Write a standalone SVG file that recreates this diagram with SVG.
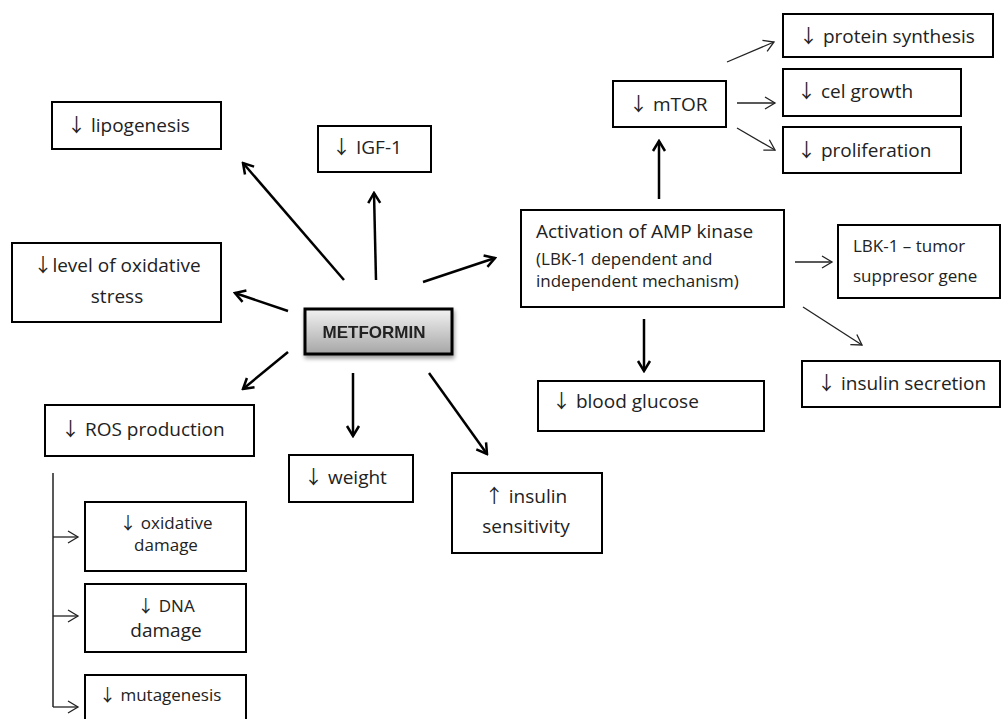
<svg xmlns="http://www.w3.org/2000/svg" width="1002" height="719" viewBox="0 0 1002 719">
<style>
.box{fill:#fff;stroke:#000;stroke-width:2}
.t{font-family:"Open Sans","Liberation Sans",Arial,sans-serif;font-size:19px;fill:#222}
.s{font-size:17px}
.c{text-anchor:middle}
.a{font-family:"Noto Sans CJK SC","Liberation Sans",sans-serif;font-weight:400}
.thick{stroke:#000;stroke-width:2.5;fill:none;marker-end:url(#ah)}
.thin{stroke:#222;stroke-width:1.3;fill:none;marker-end:url(#ahs)}
</style>
<defs>
<marker id="ah" markerUnits="userSpaceOnUse" markerWidth="16" markerHeight="16" viewBox="0 0 16 16" refX="14" refY="8" orient="auto">
<path d="M4,2 L14,8 L4,14" fill="none" stroke="#000" stroke-width="2.5"/>
</marker>
<marker id="ahs" markerUnits="userSpaceOnUse" markerWidth="16" markerHeight="16" viewBox="0 0 16 16" refX="14" refY="8" orient="auto">
<path d="M4,2 L14,8 L4,14" fill="none" stroke="#222" stroke-width="1.3"/>
</marker>
<linearGradient id="mg" x1="0" y1="0" x2="0" y2="1">
<stop offset="0" stop-color="#f2f2f2"/>
<stop offset="1" stop-color="#a6a6a6"/>
</linearGradient>
<filter id="sh" x="-20%" y="-30%" width="140%" height="170%">
<feGaussianBlur in="SourceAlpha" stdDeviation="2"/>
<feOffset dx="1" dy="3"/>
<feComponentTransfer><feFuncA type="linear" slope="0.4"/></feComponentTransfer>
<feMerge><feMergeNode/><feMergeNode in="SourceGraphic"/></feMerge>
</filter>
</defs>

<g id="connectors">
<line class="thick" x1="344" y1="280" x2="243" y2="163"/>
<line class="thick" x1="376" y1="280" x2="374" y2="193"/>
<line class="thick" x1="423" y1="282" x2="495" y2="258"/>
<line class="thick" x1="288" y1="311" x2="235" y2="293"/>
<line class="thick" x1="288" y1="352" x2="243" y2="389"/>
<line class="thick" x1="353" y1="373" x2="353" y2="436"/>
<line class="thick" x1="429" y1="373" x2="487" y2="454"/>
<line class="thick" x1="659" y1="199" x2="659" y2="141"/>
<line class="thick" x1="644" y1="319" x2="644" y2="371"/>
<line class="thin" x1="727" y1="62" x2="774" y2="42"/>
<line class="thin" x1="737" y1="103" x2="775" y2="103"/>
<line class="thin" x1="737" y1="128" x2="775" y2="150"/>
<line class="thin" x1="795" y1="262" x2="832" y2="262"/>
<line class="thin" x1="803" y1="307" x2="862" y2="345"/>
<path d="M53,473 L53,707" stroke="#222" stroke-width="1.5" fill="none"/>
<line class="thin" x1="53" y1="537" x2="78" y2="537"/>
<line class="thin" x1="53" y1="616" x2="78" y2="616"/>
<line class="thin" x1="53" y1="707" x2="78" y2="707"/>
</g>

<g id="metformin" filter="url(#sh)">
<rect x="305" y="309" width="147" height="45" fill="url(#mg)" stroke="#000" stroke-width="3"/>
<text x="374" y="338" text-anchor="middle" font-family="Liberation Sans,Arial,sans-serif" font-weight="bold" font-size="17" fill="#222">METFORMIN</text>
</g>

<g id="lipogenesis">
<rect class="box" x="52" y="102" width="169" height="47"/>
<text class="t" x="67" y="132"><tspan class="a">↓</tspan> lipogenesis</text>
</g>

<g id="igf1">
<rect class="box" x="318" y="126" width="113" height="46"/>
<text class="t" x="332" y="154"><tspan class="a">↓</tspan> IGF-1</text>
</g>

<g id="oxidative-stress">
<rect class="box" x="12" y="243" width="209" height="79"/>
<text class="t c" x="117" y="272"><tspan class="a">↓</tspan>level of oxidative</text>
<text class="t c" x="117" y="303">stress</text>
</g>

<g id="ros">
<rect class="box" x="45" y="405" width="209" height="51"/>
<text class="t" x="61" y="436"><tspan class="a">↓</tspan> ROS production</text>
</g>

<g id="weight">
<rect class="box" x="289" y="455" width="124" height="47"/>
<text class="t" x="304" y="484"><tspan class="a">↓</tspan> weight</text>
</g>

<g id="insulin-sensitivity">
<rect class="box" x="452" y="473" width="150" height="80"/>
<text class="t c" x="526" y="503"><tspan class="a">↑</tspan> insulin</text>
<text class="t c" x="526" y="533">sensitivity</text>
</g>

<g id="oxidative-damage">
<rect class="box" x="85" y="502" width="161" height="69"/>
<text class="t s c" x="166" y="529"><tspan class="a">↓</tspan> oxidative</text>
<text class="t s c" x="166" y="551">damage</text>
</g>

<g id="dna-damage">
<rect class="box" x="85" y="584" width="161" height="68"/>
<text class="t s c" x="166" y="612"><tspan class="a">↓</tspan> DNA</text>
<text class="t c" x="166" y="637">damage</text>
</g>

<g id="mutagenesis">
<rect class="box" x="85" y="675" width="161" height="60"/>
<text class="t s" x="99" y="701"><tspan class="a">↓</tspan> mutagenesis</text>
</g>

<g id="amp-kinase">
<rect class="box" x="521" y="210" width="263" height="97"/>
<text class="t" x="536" y="238">Activation of AMP kinase</text>
<text class="t s" x="536" y="265">(LBK-1 dependent and</text>
<text class="t s" x="536" y="287">independent mechanism)</text>
</g>

<g id="mtor">
<rect class="box" x="613" y="81" width="113" height="46"/>
<text class="t" x="629" y="111"><tspan class="a">↓</tspan> mTOR</text>
</g>

<g id="protein-synthesis">
<rect class="box" x="783" y="14" width="210" height="43"/>
<text class="t" x="799" y="43"><tspan class="a">↓</tspan> protein synthesis</text>
</g>

<g id="cel-growth">
<rect class="box" x="783" y="69" width="178" height="47"/>
<text class="t" x="797" y="98"><tspan class="a">↓</tspan> cel growth</text>
</g>

<g id="proliferation">
<rect class="box" x="783" y="127" width="178" height="46"/>
<text class="t" x="797" y="157"><tspan class="a">↓</tspan> proliferation</text>
</g>

<g id="lbk1">
<rect class="box" x="838" y="225" width="162" height="73"/>
<text class="t s" x="853" y="252">LBK-1 – tumor</text>
<text class="t s" x="853" y="282">suppresor gene</text>
</g>

<g id="insulin-secretion">
<rect class="box" x="802" y="361" width="198" height="46"/>
<text class="t" x="817" y="390"><tspan class="a">↓</tspan> insulin secretion</text>
</g>

<g id="blood-glucose">
<rect class="box" x="538" y="381" width="226" height="50"/>
<text class="t" x="552" y="408"><tspan class="a">↓</tspan> blood glucose</text>
</g>
</svg>
